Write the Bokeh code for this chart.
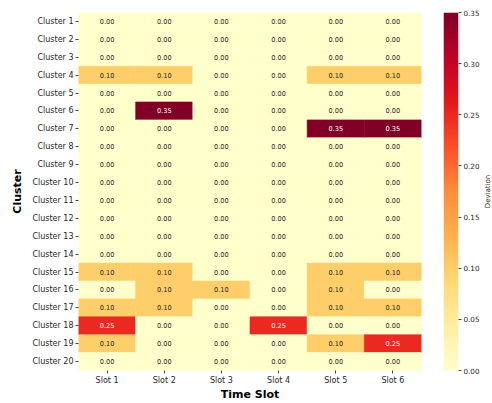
import numpy as np
from bokeh.plotting import figure
from bokeh.models import (ColumnDataSource, LinearColorMapper, FixedTicker,
                          FactorRange, Range1d, NumeralTickFormatter)
from bokeh.core.properties import value
from bokeh.layouts import row
from bokeh.transform import transform
from bokeh.embed import file_html
from bokeh.resources import INLINE
from bokeh.palettes import YlOrRd9

clusters = ["Cluster 1", "Cluster 2", "Cluster 3", "Cluster 4", "Cluster 5",
            "Cluster 6", "Cluster 7", "Cluster 8", "Cluster 9", "Cluster 10",
            "Cluster 11", "Cluster 12", "Cluster 13", "Cluster 14", "Cluster 15",
            "Cluster 16", "Cluster 17", "Cluster 18", "Cluster 19", "Cluster 20"]
slots = ["Slot 1", "Slot 2", "Slot 3", "Slot 4", "Slot 5", "Slot 6"]

# deviation per slot, one value per cluster (Cluster 1 .. Cluster 20)
slot1 = [0, 0, 0, 0.10, 0, 0, 0, 0, 0, 0, 0, 0, 0, 0, 0.10, 0, 0.10, 0.25, 0.10, 0]
slot2 = [0, 0, 0, 0.10, 0, 0.35, 0, 0, 0, 0, 0, 0, 0, 0, 0.10, 0.10, 0.10, 0, 0, 0]
slot3 = [0, 0, 0, 0, 0, 0, 0, 0, 0, 0, 0, 0, 0, 0, 0, 0.10, 0, 0, 0, 0]
slot4 = [0, 0, 0, 0, 0, 0, 0, 0, 0, 0, 0, 0, 0, 0, 0, 0, 0, 0.25, 0, 0]
slot5 = [0, 0, 0, 0.10, 0, 0, 0.35, 0, 0, 0, 0, 0, 0, 0, 0.10, 0.10, 0.10, 0, 0.10, 0]
slot6 = [0, 0, 0, 0.10, 0, 0, 0.35, 0, 0, 0, 0, 0, 0, 0, 0.10, 0, 0.10, 0, 0.25, 0]
slot_values = [slot1, slot2, slot3, slot4, slot5, slot6]

cbar_ticks = [0.0, 0.05, 0.10, 0.15, 0.20, 0.25, 0.30, 0.35]
cbar_title = "Deviation"
vmin, vmax = 0.0, 0.35

# continuous YlOrRd palette (256 levels) interpolated from ColorBrewer stops
base = list(reversed(YlOrRd9))
rgb = np.array([[int(h[i:i + 2], 16) for i in (1, 3, 5)] for h in base], dtype=float)
pos = np.linspace(0, 1, len(base))
t = np.linspace(0, 1, 256)
interp = np.stack([np.interp(t, pos, rgb[:, k]) for k in range(3)], axis=1)
palette = ["#%02x%02x%02x" % tuple(int(round(c)) for c in r) for r in interp]
mapper = LinearColorMapper(palette=palette, low=vmin, high=vmax)


def text_color(v):
    idx = int(round((v - vmin) / (vmax - vmin) * 255))
    r, g, b = interp[idx] / 255.0
    lum = 0.2126 * r + 0.7152 * g + 0.0722 * b
    return "#262626" if lum > 0.408 else "#ffffff"


xs, ys, vals, labels, tcols = [], [], [], [], []
for s, col in zip(slots, slot_values):
    for c, v in zip(clusters, col):
        xs.append(s)
        ys.append(c)
        vals.append(v)
        labels.append(f"{v:.2f}")
        tcols.append(text_color(v))
src = ColumnDataSource(dict(x=xs, y=ys, v=vals, label=labels, tc=tcols))

FONT = "DejaVu Sans"
TOP, BOTTOM = 12, 31

p1 = figure(width=431, height=403, x_range=FactorRange(*slots),
            y_range=FactorRange(*reversed(clusters)),
            output_backend="svg", toolbar_location=None,
            min_border_left=78, min_border_right=10, min_border_top=TOP, min_border_bottom=BOTTOM)
p1.rect(x="x", y="y", width=1, height=1, source=src,
        fill_color=transform("v", mapper), line_color=transform("v", mapper), line_width=0.6)
p1.text(x="x", y="y", text="label", source=src, text_color="tc",
        text_align="center", text_baseline="middle", text_font_size="6.6px",
        text_font=value(FONT))
p1.outline_line_color = None
p1.grid.visible = False
for ax in (p1.xaxis[0], p1.yaxis[0]):
    ax.axis_line_color = None
    ax.major_tick_in = 0
    ax.major_tick_out = 3
    ax.major_tick_line_color = "#444444"
    ax.minor_tick_line_color = None
    ax.major_label_text_font = FONT
    ax.major_label_text_font_size = "8px"
    ax.major_label_text_color = "#262626"
    ax.major_label_text_line_height = 0.9
    ax.major_label_standoff = 2
    ax.axis_label_text_font = FONT
    ax.axis_label_text_font_size = "11px"
    ax.axis_label_text_font_style = "bold"
    ax.axis_label_text_color = "#000000"
    ax.axis_label_text_line_height = 0.8
p1.xaxis.axis_label_standoff = 0
p1.yaxis.axis_label_standoff = 5
p1.xaxis.axis_label = "Time Slot"
p1.yaxis.axis_label = "Cluster"

# colour bar
p2 = figure(width=51, height=403, x_range=Range1d(0, 1), y_range=Range1d(vmin, vmax),
            y_axis_location="right", output_backend="svg", toolbar_location=None,
            min_border_left=12, min_border_right=22, min_border_top=TOP, min_border_bottom=BOTTOM)
grad = np.linspace(vmin, vmax, 256).reshape(-1, 1)
p2.image(image=[grad], x=0, y=vmin, dw=1, dh=vmax - vmin, color_mapper=mapper)
p2.outline_line_color = None
p2.grid.visible = False
p2.xaxis.visible = False
ya = p2.yaxis[0]
ya.ticker = FixedTicker(ticks=cbar_ticks)
ya.formatter = NumeralTickFormatter(format="0.00")
ya.axis_line_color = None
ya.major_tick_in = 0
ya.major_tick_out = 3
ya.major_tick_line_color = "#444444"
ya.minor_tick_line_color = None
ya.major_label_text_font = FONT
ya.major_label_text_font_size = "7.2px"
ya.major_label_text_color = "#262626"
ya.major_label_standoff = 2

# colour-bar title strip
p3 = figure(width=10, height=403, x_range=Range1d(0, 1), y_range=Range1d(0, 1),
            output_backend="svg", toolbar_location=None,
            min_border_left=0, min_border_right=0, min_border_top=TOP, min_border_bottom=BOTTOM)
p3.text(x=[0.5], y=[0.5], text=[cbar_title], angle=np.pi / 2,
        text_align="center", text_baseline="middle", text_font=value(FONT),
        text_font_size="7px", text_color="#262626")
p3.outline_line_color = None
p3.grid.visible = False
p3.axis.visible = False

layout = row(p1, p2, p3)
open("out.html", "w").write(file_html(layout, INLINE))
